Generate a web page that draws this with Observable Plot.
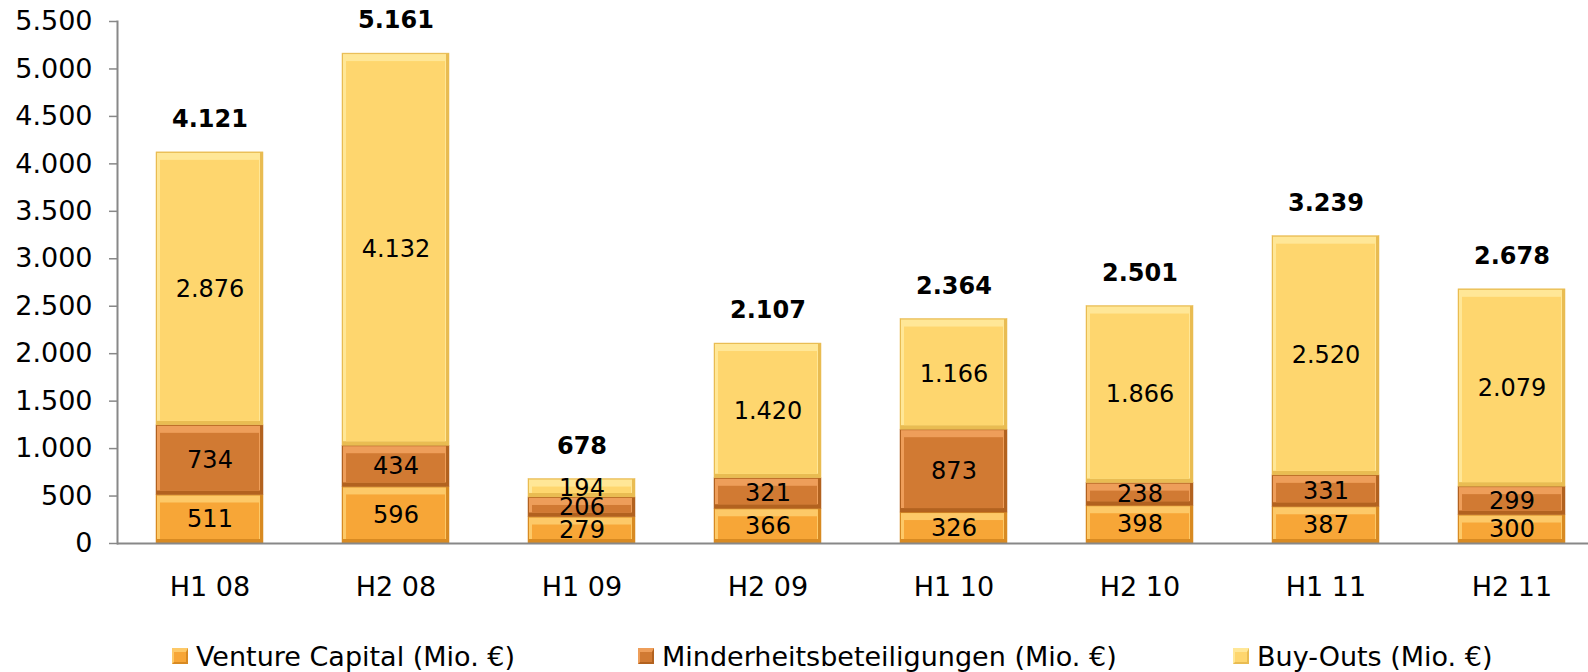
<!DOCTYPE html>
<html>
<head>
<meta charset="utf-8">
<script src="https://cdn.jsdelivr.net/npm/d3@7"></script>
<script src="https://cdn.jsdelivr.net/npm/@observablehq/plot@0.6"></script>
<style>
  html, body { margin: 0; padding: 0; background: #fff; }
  body { width: 1588px; height: 672px; overflow: hidden; font-family: "DejaVu Sans", Verdana, sans-serif; }
  #legend { position: relative; height: 42px; }
  .item { position: absolute; top: 0; height: 52px; display: flex; align-items: center; font-size: 27px; color: #000; white-space: nowrap; }
  .sw { width: 16px; height: 16px; box-sizing: border-box; margin-right: 8px; border-style: solid; border-width: 4px 2px 2px 2px; }
</style>
</head>
<body>
<div id="chart"></div>
<div id="legend"></div>
<script>
// ---- data ----
const categories = ["H1 08", "H2 08", "H1 09", "H2 09", "H1 10", "H2 10", "H1 11", "H2 11"];
const ventureCapital = [511, 596, 279, 366, 326, 398, 387, 300];
const minderheitsbeteiligungen = [734, 434, 206, 321, 873, 238, 331, 299];
const buyOuts = [2876, 4132, 194, 1420, 1166, 1866, 2520, 2079];
const totals = [4121, 5161, 678, 2107, 2364, 2501, 3239, 2678];
const seriesNames = ["Venture Capital (Mio. €)", "Minderheitsbeteiligungen (Mio. €)", "Buy-Outs (Mio. €)"];
const yTicks = [0, 500, 1000, 1500, 2000, 2500, 3000, 3500, 4000, 4500, 5000, 5500];

// colours: main, highlight (top bevel), edge (sides / bottom)
const mainColors = ["#F7A637", "#D17A33", "#FED66E"];
const lightColors = ["#FDC968", "#EE9E5A", "#FFE797"];
const edgeColors = ["#D88A22", "#B2621F", "#E9BC52"];

const seriesValues = [ventureCapital, minderheitsbeteiligungen, buyOuts];
const rows = [];
categories.forEach((c, i) => {
  seriesValues.forEach((vals, s) => {
    rows.push({cat: c, series: s, value: vals[i]});
  });
});
const totalRows = categories.map((c, i) => ({cat: c, total: totals[i]}));

const fmt = d3.formatLocale({decimal: ",", thousands: ".", grouping: [3], currency: ["", "€"]}).format(",d");

const stackOpts = (extra) => Plot.stackY(Object.assign({x: "cat", y: "value", order: null}, extra));

const chart = Plot.plot({
  width: 1588,
  height: 630,
  marginLeft: 117,
  marginRight: 0,
  marginTop: 21,
  marginBottom: 87,
  style: {fontFamily: "DejaVu Sans, Verdana, sans-serif", background: "#fff", color: "#000", overflow: "visible"},
  x: {domain: categories, range: [116, 1604], paddingInner: 0.425, paddingOuter: 0.2125, label: null},
  y: {domain: [0, 5500], label: null},
  color: {type: "identity"},
  marks: [
    // bevelled stacked bars: edge layer, highlight layer, main face
    Plot.barY(rows, stackOpts({fill: d => edgeColors[d.series], stroke: d => edgeColors[d.series], strokeWidth: 0.5})),
    Plot.barY(rows, stackOpts({fill: d => lightColors[d.series], insetTop: 1, insetBottom: 4, insetLeft: 1, insetRight: 3})),
    Plot.barY(rows, stackOpts({fill: d => mainColors[d.series], insetTop: 8, insetBottom: 4, insetLeft: 4, insetRight: 4})),
    Plot.text(rows, stackOpts({text: d => fmt(d.value), fontSize: 24, fill: "#000"})),
    Plot.text(totalRows, {x: "cat", y: "total", text: d => fmt(d.total), dy: -33, fontSize: 24, fontWeight: "bold", fill: "#000"}),
    Plot.axisY({ticks: yTicks, tickSize: 8, tickPadding: 17, tickFormat: fmt, fontSize: 27, stroke: "#888", strokeWidth: 1.5, fill: "#000", label: null}),
    Plot.axisX({tickSize: 0, tickPadding: 33, fontSize: 27, fill: "#000", label: null}),
    Plot.frame({anchor: "left", stroke: "#888", strokeWidth: 2}),
    Plot.ruleY([0], {stroke: "#888", strokeWidth: 2})
  ]
});
document.getElementById("chart").appendChild(chart);

// legend
const legendLefts = [172, 638, 1233];
const legend = document.getElementById("legend");
seriesNames.forEach((name, i) => {
  const item = document.createElement("div");
  item.className = "item";
  item.style.left = legendLefts[i] + "px";
  const sw = document.createElement("span");
  sw.className = "sw";
  sw.style.background = mainColors[i];
  sw.style.borderColor = `${lightColors[i]} ${edgeColors[i]} ${edgeColors[i]} ${lightColors[i]}`;
  const t = document.createElement("span");
  t.textContent = name;
  item.appendChild(sw);
  item.appendChild(t);
  legend.appendChild(item);
});
</script>
</body>
</html>
